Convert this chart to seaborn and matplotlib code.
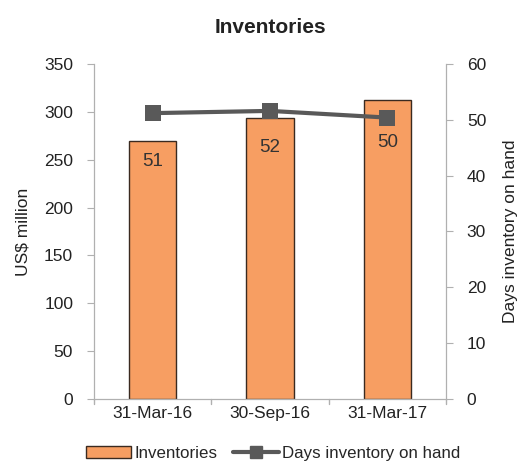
import matplotlib
matplotlib.use("Agg")
import matplotlib.pyplot as plt
import seaborn as sns
import pandas as pd
from matplotlib.patches import Patch
from matplotlib.lines import Line2D

periods = ["31-Mar-16", "30-Sep-16", "31-Mar-17"]
inventories = [270, 294, 312]
days_on_hand = [51.2, 51.6, 50.4]
day_labels = ["51", "52", "50"]
label_pos = [42.5, 45.0, 45.9]

sns.set_style("white")
plt.rcParams['font.family'] = ['Liberation Sans', 'DejaVu Sans']

BAR = "#F79E62"
EDGE = "#3A2A20"
LINE = "#595959"
AX = "#B0B0B0"
TXT = "#222222"

df = pd.DataFrame({"period": periods, "inv": inventories, "days": days_on_hand})

fig = plt.figure(figsize=(5.2, 4.63), dpi=100)
ax = fig.add_axes([94/520, 1-399/463, 352/520, 335/463])
sns.barplot(data=df, x="period", y="inv", ax=ax, color=BAR,
            edgecolor=EDGE, linewidth=1.0, width=0.405, saturation=1)
ax.set_xlim(-0.5, 2.5)
ax.set_ylim(0, 350)
ax.set_yticks(range(0, 351, 50))
ax.set_ylabel("US$ million", fontsize=12.5, color=TXT, labelpad=10)
ax.set_xlabel("")
ax.set_xticks([0, 1, 2])
ax.set_xticklabels(periods, fontsize=12.5, color=TXT)
ax.tick_params(axis="x", length=0, pad=5)
ax.tick_params(axis="y", labelsize=12.5, labelcolor=TXT, length=5, color=AX, left=True, pad=10)
for x in [-0.5, 0.5, 1.5, 2.5]:
    ax.plot([x, x], [0, -5.5], color=AX, lw=1, clip_on=False)

ax.spines["top"].set_visible(False)
for s in ["left", "bottom", "right"]:
    ax.spines[s].set_color(AX)

ax2 = ax.twinx()
sns.lineplot(data=df, x="period", y="days", ax=ax2, color=LINE, lw=3,
             marker="s", markersize=11, markeredgewidth=0, sort=False)
ax2.set_ylim(0, 60)
ax2.set_yticks(range(0, 61, 10))
ax2.set_xlim(-0.5, 2.5)
ax2.set_ylabel("Days inventory on hand", fontsize=12.5, color=TXT, labelpad=12)
ax2.set_xlabel("")
ax2.tick_params(axis="y", labelsize=12.5, labelcolor=TXT, length=5, color=AX, right=True, pad=10)
ax2.spines["top"].set_visible(False)
for s in ["left", "bottom", "right"]:
    ax2.spines[s].set_color(AX)

for i, (lab, yp) in enumerate(zip(day_labels, label_pos)):
    ax2.text(i, yp, lab, ha="center", va="center", fontsize=13.5, color="#333333")

ax.set_title("Inventories", fontsize=15, fontweight="bold", pad=22, color=TXT)

handles = [Patch(facecolor=BAR, edgecolor=EDGE, label="Inventories"),
           Line2D([0], [0], color=LINE, lw=3, marker="s", markersize=9,
                  label="Days inventory on hand")]
fig.legend(handles=handles, loc="lower center", bbox_to_anchor=(0.525, -0.028), ncol=2,
           frameon=False, fontsize=12.2, handlelength=2.7, handletextpad=0.2, columnspacing=0.9)

fig.savefig("out.png", dpi=100)
